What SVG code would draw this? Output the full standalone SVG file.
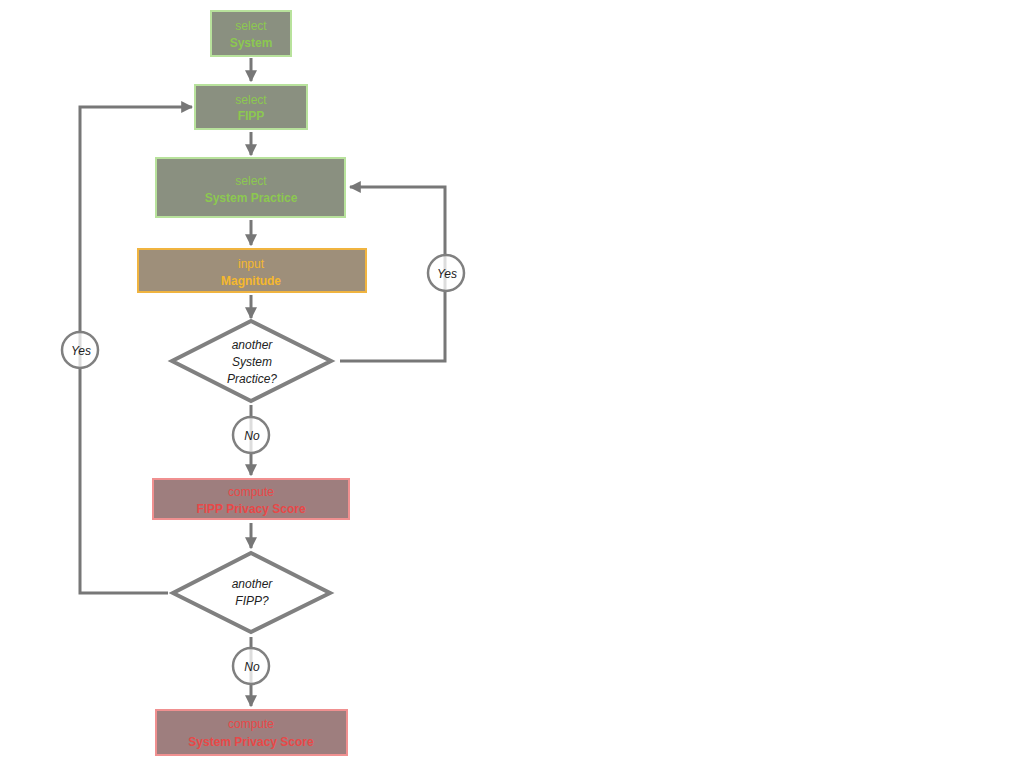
<svg xmlns="http://www.w3.org/2000/svg" width="1024" height="768" viewBox="0 0 1024 768">
<style>
text{font-family:"Liberation Sans",Arial,sans-serif;font-size:12px;text-anchor:middle}
.g rect{fill:#8a9080;stroke:#b8e29c;stroke-width:2}
.g text{fill:#8cc850}
.o rect{fill:#9e8f7a;stroke:#f0b440;stroke-width:2}
.o text{fill:#f5b82e}
.r rect{fill:#9e7e7e;stroke:#f09090;stroke-width:2}
.r text{fill:#e84848}
.b{font-weight:bold}
.d polygon{fill:#fff;stroke:#808080;stroke-width:4}
.d text,.c text{font-style:italic;fill:#222}
.c circle{fill:#fff;fill-opacity:0.75;stroke:#808080;stroke-width:2.5}
.e{fill:none;stroke:#777;stroke-width:3}
</style>
<defs><marker id="a" viewBox="0 0 10 10" refX="9" refY="5" markerWidth="4" markerHeight="4" orient="auto"><path d="M0,0L10,5L0,10z" fill="#777"/></marker></defs>
<rect width="1024" height="768" fill="#fff"/>
<g id="edges">
<path class="e" d="M251,58V81" marker-end="url(#a)"/>
<path class="e" d="M251,132V155" marker-end="url(#a)"/>
<path class="e" d="M251,220V245" marker-end="url(#a)"/>
<path class="e" d="M251,295V318" marker-end="url(#a)"/>
<path class="e" d="M251,405V475" marker-end="url(#a)"/>
<path class="e" d="M251,523V548" marker-end="url(#a)"/>
<path class="e" d="M251,637V706" marker-end="url(#a)"/>
<path class="e" d="M168,593H80V107H192" marker-end="url(#a)"/>
<path class="e" d="M340,361H445V187H350" marker-end="url(#a)"/>
</g>
<g id="n1" class="g"><rect x="211" y="11" width="80" height="45"/><text x="251" y="30">select</text><text class="b" x="251" y="47">System</text></g>
<g id="n2" class="g"><rect x="195" y="85" width="112" height="44"/><text x="251" y="104">select</text><text class="b" x="251" y="120">FIPP</text></g>
<g id="n3" class="g"><rect x="156" y="158" width="189" height="59"/><text x="251" y="185">select</text><text class="b" x="251" y="202">System Practice</text></g>
<g id="n4" class="o"><rect x="138" y="249" width="228" height="43"/><text x="251" y="268">input</text><text class="b" x="251" y="285">Magnitude</text></g>
<g id="n5" class="d"><polygon points="251,321 331,361 251,401 172,361"/><text x="252" y="349">another</text><text x="252" y="366">System</text><text x="252" y="383">Practice?</text></g>
<g id="c1" class="c"><circle cx="251" cy="435" r="18"/><text x="252" y="440">No</text></g>
<g id="n6" class="r"><rect x="153" y="479" width="196" height="40"/><text x="251" y="496">compute</text><text class="b" x="251" y="513">FIPP Privacy Score</text></g>
<g id="n7" class="d"><polygon points="251,553 330,593 251,632 173,593"/><text x="252" y="588">another</text><text x="252" y="605">FIPP?</text></g>
<g id="c2" class="c"><circle cx="251" cy="666" r="18"/><text x="252" y="671">No</text></g>
<g id="n8" class="r"><rect x="156" y="710" width="191" height="45"/><text x="251" y="728">compute</text><text class="b" x="251" y="746">System Privacy Score</text></g>
<g id="c3" class="c"><circle cx="80" cy="350" r="18"/><text x="81" y="355">Yes</text></g>
<g id="c4" class="c"><circle cx="446" cy="273" r="18"/><text x="447" y="278">Yes</text></g>
</svg>
